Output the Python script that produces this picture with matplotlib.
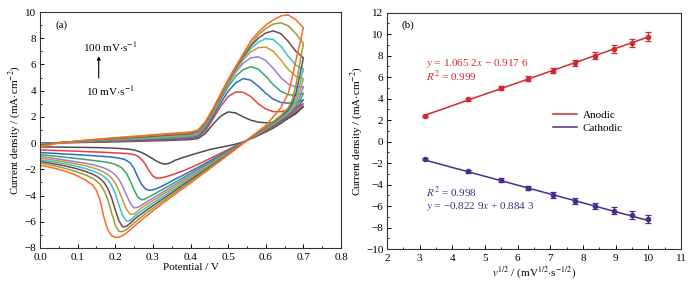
import numpy as np
import matplotlib.pyplot as plt
from matplotlib.ticker import MultipleLocator

plt.rcParams['font.family'] = ['Liberation Serif', 'DejaVu Serif']
plt.rcParams['mathtext.fontset'] = 'stix'
plt.rcParams['font.size'] = 8

# ---- (a) cyclic voltammograms, 10 ... 100 mV/s ----
E_fwd = [0.0, 0.05, 0.1, 0.15, 0.2, 0.25, 0.3, 0.35, 0.4, 0.42, 0.44, 0.46,
         0.48, 0.50, 0.52, 0.54, 0.56, 0.58, 0.60, 0.62, 0.64, 0.66, 0.68, 0.70]
E_rev = [0.70, 0.69, 0.68, 0.67, 0.66, 0.64, 0.62, 0.60, 0.57, 0.54, 0.51,
         0.48, 0.45, 0.42, 0.40, 0.38,
         0.36, 0.35, 0.34, 0.33, 0.32, 0.31, 0.30, 0.29, 0.28, 0.27, 0.26,
         0.25, 0.24, 0.23, 0.22, 0.21, 0.20, 0.19, 0.18, 0.17, 0.16, 0.15, 0.14,
         0.12, 0.09, 0.06, 0.03, 0.00]

fwd_10 = [0.0, 0.02, 0.04, 0.07, 0.1, 0.13, 0.17, 0.21, 0.27, 0.35, 0.75, 1.45,
          2.05, 2.38, 2.3, 2.0, 1.75, 1.6, 1.55, 1.58, 1.7, 1.9, 2.25, 2.8]
fwd_20 = [-0.02, 0.03, 0.07, 0.1, 0.14, 0.18, 0.23, 0.28, 0.34, 0.45, 0.95, 1.85,
          2.8, 3.55, 3.9, 3.88, 3.55, 3.0, 2.6, 2.4, 2.4, 2.5, 2.7, 3.0]
fwd_30 = [-0.04, 0.03, 0.09, 0.13, 0.18, 0.23, 0.28, 0.34, 0.41, 0.55, 1.1, 2.05,
          3.05, 3.95, 4.6, 4.92, 4.8, 4.35, 3.8, 3.35, 3.1, 3.05, 3.1, 3.3]
fwd_40 = [-0.06, 0.03, 0.1, 0.16, 0.22, 0.28, 0.33, 0.4, 0.48, 0.63, 1.25, 2.25,
          3.3, 4.3, 5.1, 5.6, 5.83, 5.65, 5.1, 4.45, 3.95, 3.7, 3.65, 3.8]
fwd_50 = [-0.08, 0.03, 0.11, 0.19, 0.26, 0.32, 0.38, 0.46, 0.54, 0.7, 1.35, 2.35,
          3.45, 4.5, 5.4, 6.1, 6.5, 6.58, 6.3, 5.7, 5.0, 4.5, 4.28, 4.3]
fwd_60 = [-0.1, 0.03, 0.12, 0.21, 0.29, 0.36, 0.43, 0.51, 0.6, 0.77, 1.42, 2.42,
          3.52, 4.6, 5.55, 6.35, 6.95, 7.28, 7.33, 7.0, 6.35, 5.6, 5.1, 4.9]
fwd_70 = [-0.12, 0.02, 0.13, 0.23, 0.32, 0.4, 0.48, 0.57, 0.66, 0.83, 1.5, 2.5,
          3.6, 4.68, 5.65, 6.5, 7.2, 7.7, 7.97, 7.9, 7.4, 6.6, 5.95, 5.65]
fwd_80 = [-0.15, 0.02, 0.14, 0.25, 0.35, 0.44, 0.53, 0.63, 0.72, 0.9, 1.56, 2.56,
          3.66, 4.75, 5.72, 6.62, 7.4, 8.0, 8.4, 8.56, 8.35, 7.75, 7.0, 6.5]
fwd_90 = [-0.2, 0.01, 0.15, 0.27, 0.38, 0.48, 0.58, 0.68, 0.78, 0.95, 1.6, 2.6,
          3.7, 4.8, 5.78, 6.72, 7.55, 8.25, 8.75, 9.08, 9.17, 8.95, 8.35, 7.6]
fwd_100 = [-0.3, 0.0, 0.16, 0.29, 0.41, 0.52, 0.63, 0.74, 0.85, 1.0, 1.65, 2.65,
           3.75, 4.85, 5.85, 6.8, 7.8, 8.45, 9.0, 9.4, 9.7, 9.78, 9.4, 8.8]

rev_10 = [2.80, 2.55, 2.30, 2.10, 1.90, 1.50, 1.15, 0.85, 0.45, 0.08, -0.15,
          -0.32, -0.50, -0.75, -0.92, -1.10,
          -1.30, -1.45, -1.57, -1.60, -1.52, -1.38, -1.20, -1.02, -0.86, -0.72,
          -0.61, -0.53, -0.48, -0.45, -0.43, -0.41, -0.39, -0.38, -0.37, -0.36,
          -0.35, -0.345, -0.34,
          -0.33, -0.32, -0.31, -0.30, -0.29]
rev_20 = [3.00, 2.70, 2.45, 2.20, 2.00, 1.60, 1.25, 0.95, 0.50, 0.08, -0.35,
          -0.78, -1.20, -1.62, -1.88, -2.12,
          -2.33, -2.43, -2.52, -2.60, -2.66, -2.69, -2.52, -2.12, -1.62, -1.25,
          -1.00, -0.88, -0.83, -0.80, -0.78, -0.76, -0.75, -0.73, -0.72, -0.70,
          -0.69, -0.68, -0.67,
          -0.645, -0.61, -0.58, -0.55, -0.52]
rev_30 = [3.30, 2.95, 2.60, 2.35, 2.10, 1.70, 1.32, 1.00, 0.52, 0.06, -0.42,
          -0.90, -1.38, -1.85, -2.15, -2.45,
          -2.75, -2.90, -3.05, -3.20, -3.34, -3.47, -3.56, -3.60, -3.50, -3.15,
          -2.60, -1.95, -1.52, -1.32, -1.21, -1.15, -1.10, -1.07, -1.04, -1.02,
          -1.00, -0.98, -0.96,
          -0.92, -0.87, -0.82, -0.77, -0.72]
rev_40 = [3.80, 3.20, 2.75, 2.45, 2.20, 1.78, 1.38, 1.04, 0.54, 0.04, -0.47,
          -0.98, -1.50, -2.00, -2.32, -2.65,
          -2.98, -3.14, -3.30, -3.46, -3.62, -3.78, -3.94, -4.10, -4.26, -4.33,
          -4.12, -3.58, -2.90, -2.32, -1.96, -1.76, -1.63, -1.54, -1.48, -1.43,
          -1.39, -1.35, -1.32,
          -1.25, -1.15, -1.06, -0.97, -0.88]
rev_50 = [4.30, 3.50, 2.90, 2.55, 2.28, 1.85, 1.44, 1.08, 0.56, 0.03, -0.52,
          -1.06, -1.60, -2.12, -2.46, -2.80,
          -3.15, -3.32, -3.50, -3.67, -3.85, -4.02, -4.20, -4.37, -4.55, -4.73,
          -4.90, -4.95, -4.60, -3.98, -3.32, -2.78, -2.42, -2.19, -2.03, -1.90,
          -1.80, -1.72, -1.65,
          -1.54, -1.40, -1.27, -1.14, -1.02]
rev_60 = [4.90, 3.90, 3.10, 2.65, 2.36, 1.92, 1.50, 1.12, 0.58, 0.02, -0.56,
          -1.12, -1.68, -2.22, -2.58, -2.94,
          -3.30, -3.48, -3.66, -3.84, -4.02, -4.20, -4.38, -4.56, -4.74, -4.93,
          -5.16, -5.42, -5.44, -5.05, -4.38, -3.65, -3.06, -2.66, -2.40, -2.22,
          -2.08, -1.97, -1.88,
          -1.73, -1.55, -1.40, -1.27, -1.15]
rev_70 = [5.65, 4.40, 3.40, 2.80, 2.45, 1.98, 1.55, 1.16, 0.60, 0.01, -0.59,
          -1.18, -1.76, -2.32, -2.70, -3.07,
          -3.45, -3.64, -3.82, -4.01, -4.20, -4.39, -4.58, -4.77, -4.96, -5.16,
          -5.37, -5.62, -5.90, -5.96, -5.55, -4.75, -3.85, -3.20, -2.80, -2.55,
          -2.37, -2.23, -2.12,
          -1.94, -1.72, -1.54, -1.40, -1.28]
rev_80 = [6.50, 5.10, 3.80, 3.00, 2.55, 2.04, 1.60, 1.20, 0.62, 0.00, -0.62,
          -1.23, -1.83, -2.42, -2.81, -3.20,
          -3.60, -3.80, -3.99, -4.19, -4.38, -4.58, -4.78, -4.98, -5.18, -5.39,
          -5.60, -5.84, -6.10, -6.34, -6.40, -5.95, -5.10, -4.15, -3.45, -3.00,
          -2.72, -2.52, -2.37,
          -2.15, -1.90, -1.70, -1.54, -1.40]
rev_90 = [7.60, 6.00, 4.40, 3.30, 2.70, 2.10, 1.65, 1.24, 0.64, -0.01, -0.65,
          -1.28, -1.90, -2.52, -2.92, -3.33,
          -3.74, -3.95, -4.15, -4.36, -4.56, -4.77, -4.98, -5.19, -5.40, -5.62,
          -5.85, -6.10, -6.35, -6.58, -6.75, -6.74, -6.25, -5.30, -4.30, -3.60,
          -3.15, -2.88, -2.68,
          -2.42, -2.12, -1.88, -1.68, -1.52]
rev_100 = [8.80, 7.50, 6.30, 5.00, 3.80, 2.70, 2.00, 1.35, 0.68, -0.02, -0.68,
           -1.33, -1.98, -2.62, -3.04, -3.46,
           -3.88, -4.09, -4.30, -4.51, -4.73, -4.95, -5.17, -5.40, -5.62, -5.86,
           -6.10, -6.35, -6.60, -6.85, -7.05, -7.17, -7.20, -7.05, -6.60, -5.70,
           -4.40, -3.62, -3.20,
           -2.80, -2.38, -2.08, -1.86, -1.68]

forward = [fwd_10, fwd_20, fwd_30, fwd_40, fwd_50, fwd_60, fwd_70, fwd_80, fwd_90, fwd_100]
reverse = [rev_10, rev_20, rev_30, rev_40, rev_50, rev_60, rev_70, rev_80, rev_90, rev_100]
cv_colors = ['#4d4d4d', '#e8403f', '#2e6cc2', '#3aa565', '#9b7dd4',
             '#c99a2c', '#35c2c8', '#72474f', '#9d9b33', '#f86a26']

# ---- (b) peak current vs sqrt(scan rate) ----
sqrt_v = [3.16, 4.47, 5.48, 6.32, 7.07, 7.75, 8.37, 8.94, 9.49, 10.0]
ipa = [2.4, 3.95, 4.95, 5.85, 6.6, 7.35, 7.97, 8.6, 9.15, 9.75]
ipa_err = [0.12, 0.15, 0.18, 0.22, 0.25, 0.28, 0.32, 0.35, 0.38, 0.42]
ipc = [-1.6, -2.75, -3.6, -4.3, -4.95, -5.5, -6.0, -6.45, -6.85, -7.2]
ipc_err = [0.12, 0.15, 0.17, 0.2, 0.25, 0.28, 0.3, 0.33, 0.35, 0.4]
fit_a = (1.0652, -0.9176)
fit_c = (-0.8229, 0.8843)
col_a = '#d3282c'
col_c = '#4a2c8e'

fig = plt.figure(figsize=(6.96, 2.86), dpi=100)
ax1 = fig.add_axes([0.0575, 0.133, 0.4325, 0.825])
ax2 = fig.add_axes([0.556, 0.129, 0.4224, 0.827])

for f, r, c in zip(forward, reverse, cv_colors):
    ax1.plot(E_fwd + E_rev, f + r, color=c, lw=1.1)

ax1.set_xlim(0, 0.8)
ax1.set_ylim(-8, 10)
ax1.xaxis.set_major_locator(MultipleLocator(0.1))
ax1.xaxis.set_minor_locator(MultipleLocator(0.05))
ax1.yaxis.set_major_locator(MultipleLocator(2))
ax1.yaxis.set_minor_locator(MultipleLocator(1))
ax1.set_xlabel('Potential / V', labelpad=1)
ax1.set_ylabel('Current density / (mA$\\cdot$cm$^{-2}$)', labelpad=1)
ax1.text(0.056, 9.0, '(a)', ha='center', va='center')
ax1.text(0.186, 7.35, '100 mV$\\cdot$s$^{-1}$', ha='center', va='center')
ax1.text(0.186, 3.95, '10 mV$\\cdot$s$^{-1}$', ha='center', va='center')
ax1.annotate('', xy=(0.156, 6.85), xytext=(0.156, 4.75),
             arrowprops=dict(arrowstyle='-|>', color='black', lw=0.8,
                             mutation_scale=5))

ax2.errorbar(sqrt_v, ipa, yerr=ipa_err, fmt='o', ms=3, color=col_a,
             ecolor=col_a, elinewidth=0.9, capsize=2, capthick=0.9)
ax2.errorbar(sqrt_v, ipc, yerr=ipc_err, fmt='o', ms=3, color=col_c,
             ecolor=col_c, elinewidth=0.9, capsize=2, capthick=0.9)
xs = np.array([sqrt_v[0], sqrt_v[-1]])
ax2.plot(xs, fit_a[0] * xs + fit_a[1], color=col_a, lw=1.1, label='Anodic')
ax2.plot(xs, fit_c[0] * xs + fit_c[1], color=col_c, lw=1.1, label='Cathodic')

ax2.set_xlim(2, 11)
ax2.set_ylim(-10, 12)
ax2.xaxis.set_major_locator(MultipleLocator(1))
ax2.xaxis.set_minor_locator(MultipleLocator(0.5))
ax2.yaxis.set_major_locator(MultipleLocator(2))
ax2.yaxis.set_minor_locator(MultipleLocator(1))
ax2.set_xlabel('$v^{1/2}$ / (mV$^{1/2}$$\\cdot$s$^{-1/2}$)', labelpad=1)
ax2.set_ylabel('Current density / (mA$\\cdot$cm$^{-2}$)', labelpad=1)
ax2.text(2.64, 10.85, '(b)', ha='center', va='center')
ax2.text(3.2, 7.3, '$y$ = 1.065 2$x$ \u2212 0.917 6', color=col_a, va='center')
ax2.text(3.2, 6.05, '$R^2$ = 0.999', color=col_a, va='center')
ax2.text(3.2, -4.72, '$R^2$ = 0.998', color=col_c, va='center')
ax2.text(3.2, -6.03, '$y$ = \u22120.822 9$x$ + 0.884 3', color=col_c, va='center')
ax2.legend(loc='upper left', bbox_to_anchor=(0.53, 0.63), frameon=False,
           handlelength=2.2, handletextpad=0.5, labelspacing=0.3, fontsize=8)

for ax in (ax1, ax2):
    ax.tick_params(which='both', direction='in', top=False, right=False)
    ax.tick_params(which='major', length=3, width=0.7)
    ax.tick_params(which='minor', length=1.6, width=0.6)
    ax.tick_params(axis='x', which='major', pad=3.5)
    ax.tick_params(axis='y', which='major', pad=2.5)
    for s in ax.spines.values():
        s.set_linewidth(0.8)
        s.set_color('#333333')

fig.savefig('out.png', dpi=100)
